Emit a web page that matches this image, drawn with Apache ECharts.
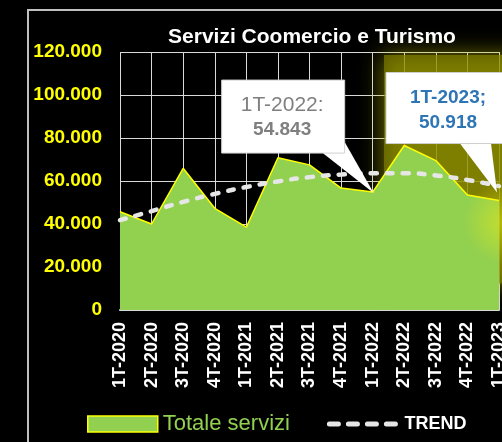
<!DOCTYPE html>
<html>
<head>
<meta charset="utf-8">
<style>
  html, body { margin: 0; padding: 0; background: #000; overflow: hidden; }
  #main { width: 502px; height: 442px; }
</style>
<script src="https://cdn.jsdelivr.net/npm/echarts@6/dist/echarts.min.js"></script>
</head>
<body>
<div id="main"></div>
<script>
// trimestri
var categories = ["1T-2020", "2T-2020", "3T-2020", "4T-2020", "1T-2021", "2T-2021", "3T-2021",
  "4T-2021", "1T-2022", "2T-2022", "3T-2022", "4T-2022", "1T-2023"];

// Totale servizi (tranne i due etichettati)
var totaleServizi = [45700, 40000, 65900, 47300, 38500, 70800, 67500, 56700, 54843, 76500, 69500, 53500, 50918];

// linea di tendenza
var trend = [41800, 46000, 50300, 54000, 57200, 59800, 61800, 63000, 63600, 63600, 62600, 60500, 57600];

var yTicks = [0, 20000, 40000, 60000, 80000, 100000, 120000];

function fmt(v) {
  return String(v).replace(/\B(?=(\d{3})+(?!\d))/g, ".");
}

var dom = document.getElementById("main");
var myChart = echarts.init(dom);
var font = "Liberation Sans";

var option = {
  backgroundColor: "#000",
  animation: false,
  title: {
    text: "Servizi Coomercio e Turismo",
    left: 307,
    textAlign: "center",
    top: 22,
    textStyle: { color: "#fff", fontSize: 21, fontWeight: "bold", fontFamily: font }
  },
  legend: {
    left: 87,
    top: 413,
    padding: 0,
    itemWidth: 70,
    itemHeight: 16,
    itemGap: 37,
    data: [
      {
        name: "Totale servizi",
        icon: "rect",
        itemStyle: { color: "#92D050", borderColor: "#FFFF00", borderWidth: 1.5 },
        textStyle: { color: "#92D050", fontSize: 22, fontFamily: font }
      },
      {
        name: "TREND",
        itemStyle: { opacity: 0 },
        lineStyle: { color: "#e6e6e6", width: 5, type: [9, 10], cap: "round" },
        textStyle: { color: "#fff", fontSize: 18, fontWeight: "bold", fontFamily: font }
      }
    ]
  },
  grid: { left: 120, right: 3, top: 52, bottom: 132, outerBoundsMode: "none" },
  xAxis: {
    type: "category",
    data: categories,
    boundaryGap: false,
    axisLine: { lineStyle: { color: "#d9d9d9", width: 2 } },
    axisTick: { show: false },
    splitLine: { show: true, lineStyle: { color: "#d9d9d9", width: 1 } },
    axisLabel: {
      rotate: 90,
      margin: 12,
      interval: 0,
      color: "#fff",
      fontSize: 18,
      fontWeight: "bold",
      fontFamily: font
    }
  },
  yAxis: {
    type: "value",
    min: yTicks[0],
    max: yTicks[yTicks.length - 1],
    interval: 20000,
    axisLine: { show: false },
    axisTick: { show: false },
    splitLine: { lineStyle: { color: "#d9d9d9", width: 1 } },
    axisLabel: {
      margin: 18,
      color: "#FFFF00",
      fontSize: 19,
      fontWeight: "bold",
      fontFamily: font,
      formatter: function (v) { return fmt(v); }
    }
  },
  series: [
    {
      name: "Totale servizi",
      type: "line",
      data: totaleServizi,
      symbol: "none",
      z: 2,
      lineStyle: { color: "#FFFF00", width: 1.5 },
      itemStyle: { color: "#92D050" },
      areaStyle: { color: "#92D050", opacity: 1 }
    },
    {
      name: "TREND",
      type: "line",
      data: trend,
      symbol: "none",
      smooth: true,
      z: 3,
      itemStyle: { color: "#e6e6e6" },
      lineStyle: { color: "#e6e6e6", width: 4.5, type: [6, 10], cap: "round" }
    }
  ]
};

myChart.setOption(option);

// fumetti, glow e cornice posizionati dai punti del grafico
var p1 = myChart.convertToPixel({ seriesIndex: 0 }, [8, totaleServizi[8]]);
var p2 = myChart.convertToPixel({ seriesIndex: 0 }, [12, totaleServizi[12]]);
var topY = myChart.convertToPixel({ yAxisIndex: 0 }, yTicks[yTicks.length - 1]);

function callout(p, box, tip, l1, l2, color, bold1) {
  var cx = p[0] + box[0] + box[2] / 2 - 1;
  return [
    {
      type: "polygon",
      z: 20,
      shape: { points: [[p[0] + tip[0], p[1] + tip[1]], [p[0] + tip[2], p[1] + tip[3]], [p[0] + tip[4], p[1] + tip[5]]] },
      style: { fill: "#fff" }
    },
    {
      type: "rect",
      z: 21,
      shape: { x: p[0] + box[0], y: p[1] + box[1], width: box[2], height: box[3] },
      style: { fill: "#fff", stroke: "#d0d0d0", lineWidth: 1 }
    },
    {
      type: "text",
      z: 22,
      x: cx,
      y: p[1] + box[1] + 25,
      style: {
        text: l1, fill: color, align: "center", verticalAlign: "middle",
        font: (bold1 ? "bold 19px " : "21px ") + font
      }
    },
    {
      type: "text",
      z: 22,
      x: cx,
      y: p[1] + box[1] + 50,
      style: {
        text: l2, fill: color, align: "center", verticalAlign: "middle",
        font: "bold 19px " + font
      }
    }
  ];
}

var graphics = [
  {
    type: "rect",
    z: 1,
    shape: { x: p2[0] - 115, y: topY + 3, width: 260, height: p2[1] - topY + 80 },
    style: { fill: "rgba(130,130,0,0.65)", shadowBlur: 22, shadowColor: "rgba(200,200,0,0.9)" }
  },
  {
    type: "circle",
    z: 10,
    shape: { cx: p2[0] + 6, cy: p2[1] + 22, r: 42 },
    style: {
      fill: new echarts.graphic.RadialGradient(0.5, 0.5, 0.5, [
        { offset: 0, color: "rgba(235,235,20,0.55)" },
        { offset: 1, color: "rgba(235,235,20,0)" }
      ])
    }
  }
];
graphics = graphics.concat(
  callout(p1, [-151, -112, 123, 73], [-50, -39, -28, -50, 1, 1], "1T-2022:", fmt(totaleServizi[8]), "#7f7f7f", false),
  callout(p2, [-113, -128, 126, 71], [-39, -57, -8, -57, -2, -8], "1T-2023;", fmt(totaleServizi[12]), "#2E75B6", true)
);
graphics.push({
  type: "rect",
  z: 30,
  silent: true,
  shape: { x: 28, y: 10, width: 600, height: 600 },
  style: { fill: "none", stroke: "#bfbfbf", lineWidth: 2 }
});

myChart.setOption({ graphic: graphics });
</script>
</body>
</html>
